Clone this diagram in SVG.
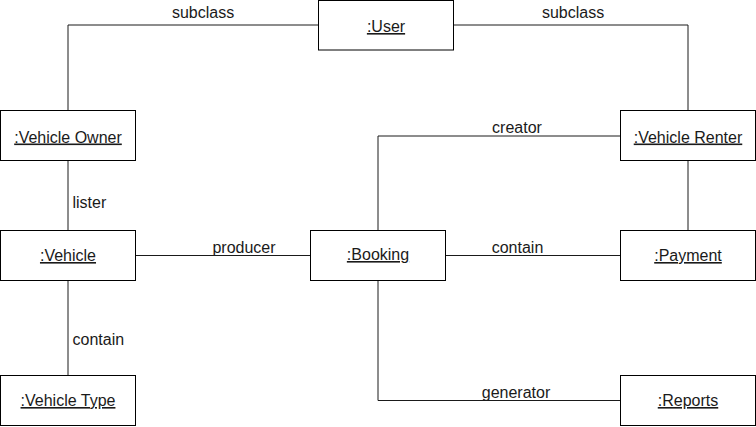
<svg xmlns="http://www.w3.org/2000/svg" width="756" height="427" viewBox="0 0 756 427">
<style>
.box{fill:#fff;stroke:#000;stroke-width:1}
.lbl{font-family:"Liberation Sans",Arial,sans-serif;font-size:16px;fill:#1a1a1a}
.nt{font-family:"Liberation Sans",Arial,sans-serif;font-size:16px;fill:#1a1a1a;text-anchor:middle;text-decoration:underline}
.ln{fill:none;stroke:#1a1a1a;stroke-width:1}
</style>
<rect width="756" height="427" fill="#fff"/>
<g id="connectors">
<path class="ln" d="M318.5 25 H68 V110.5"/>
<path class="ln" d="M453.5 25 H688 V110.5"/>
<path class="ln" d="M68 160.5 V230.5"/>
<path class="ln" d="M68 280.5 V375.5"/>
<path class="ln" d="M135.5 255.5 H310.5"/>
<path class="ln" d="M445.5 255.5 H620.5"/>
<path class="ln" d="M620.5 136 H378 V230.5"/>
<path class="ln" d="M688 160.5 V230.5"/>
<path class="ln" d="M378 280.5 V400.5 H620.5"/>
<text class="lbl" x="203" y="17.5" text-anchor="middle">subclass</text>
<text class="lbl" x="573" y="17.5" text-anchor="middle">subclass</text>
<text class="lbl" x="517" y="132.5" text-anchor="middle">creator</text>
<text class="lbl" x="72.5" y="207.5">lister</text>
<text class="lbl" x="72.5" y="345">contain</text>
<text class="lbl" x="244" y="253" text-anchor="middle">producer</text>
<text class="lbl" x="517.5" y="252.5" text-anchor="middle">contain</text>
<text class="lbl" x="516" y="397.5" text-anchor="middle">generator</text>
</g>
<g id="user"><rect class="box" x="318.5" y="0.5" width="135" height="49.5"/><text class="nt" x="386" y="32">:User</text></g>
<g id="vehicle-owner"><rect class="box" x="0.5" y="110.5" width="135" height="50"/><text class="nt" x="68" y="142.5">:Vehicle Owner</text></g>
<g id="vehicle-renter"><rect class="box" x="620.5" y="110.5" width="135" height="50"/><text class="nt" x="688" y="142.5">:Vehicle Renter</text></g>
<g id="vehicle"><rect class="box" x="0.5" y="230.5" width="135" height="50"/><text class="nt" x="68" y="261">:Vehicle</text></g>
<g id="booking"><rect class="box" x="310.5" y="230.5" width="135" height="50"/><text class="nt" x="378" y="260">:Booking</text></g>
<g id="payment"><rect class="box" x="620.5" y="230.5" width="135" height="50"/><text class="nt" x="688" y="261">:Payment</text></g>
<g id="vehicle-type"><rect class="box" x="0.5" y="375.5" width="135" height="50"/><text class="nt" x="68" y="406">:Vehicle Type</text></g>
<g id="reports"><rect class="box" x="620.5" y="375.5" width="135" height="50"/><text class="nt" x="688" y="406">:Reports</text></g>
</svg>
